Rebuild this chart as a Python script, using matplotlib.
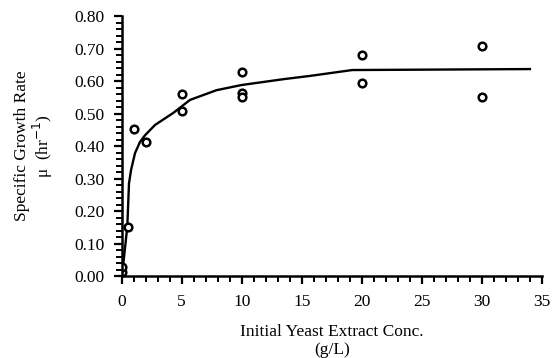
import matplotlib.pyplot as plt
from matplotlib.ticker import MultipleLocator, FormatStrFormatter

# measured points (g/L, 1/hr)
conc = [0.05, 0.05, 0.5, 1, 2, 5, 5, 10, 10, 10, 20, 20, 30, 30]
mu = [0.011, 0.029, 0.150, 0.454, 0.413, 0.559, 0.509, 0.627, 0.564, 0.552,
      0.680, 0.593, 0.709, 0.552]

# fitted curve
fit_x = [0.05, 0.47, 0.61, 0.78, 1.11, 1.53, 1.94, 2.78, 3.6, 4.3, 5.69,
         7.9, 10, 13.5, 15.7, 19.2, 34]
fit_y = [0.008, 0.152, 0.285, 0.326, 0.378, 0.413, 0.433, 0.465, 0.485, 0.502,
         0.542, 0.572, 0.588, 0.606, 0.616, 0.634, 0.637]

plt.rcParams['font.family'] = ['Liberation Serif', 'DejaVu Serif']

fig = plt.figure(figsize=(5.53, 3.58), dpi=100)
ax = fig.add_axes([0.220, 0.229, 0.760, 0.726])

ax.plot(fit_x, fit_y, color='black', lw=1.7)
ax.plot(conc, mu, 'o', mfc='white', mec='black', ms=5.5, mew=1.8)

ax.set_xlim(0, 35)
ax.set_ylim(0, 0.80)
ax.xaxis.set_major_locator(MultipleLocator(5))
ax.xaxis.set_minor_locator(MultipleLocator(1))
ax.yaxis.set_major_locator(MultipleLocator(0.10))
ax.yaxis.set_minor_locator(MultipleLocator(0.02))
ax.yaxis.set_major_formatter(FormatStrFormatter('%.2f'))

for s in ['top', 'right']:
    ax.spines[s].set_visible(False)
for s in ['left', 'bottom']:
    ax.spines[s].set_linewidth(1.8)

ax.tick_params(which='major', direction='out', length=6, width=1.6, labelsize=12.5)
ax.tick_params(which='minor', direction='out', length=4.5, width=1.4)
ax.tick_params(axis='x', pad=7)
ax.tick_params(axis='y', pad=6)

ax.set_xlabel('Initial Yeast Extract Conc.\n(g/L)', fontsize=12.5, labelpad=10,
              linespacing=1.15)
ax.set_ylabel('Specific Growth Rate\n\u03bc  (hr$^{-1}$)', fontsize=12.5,
              labelpad=14, linespacing=1.05)

fig.savefig('out.png', dpi=100)
